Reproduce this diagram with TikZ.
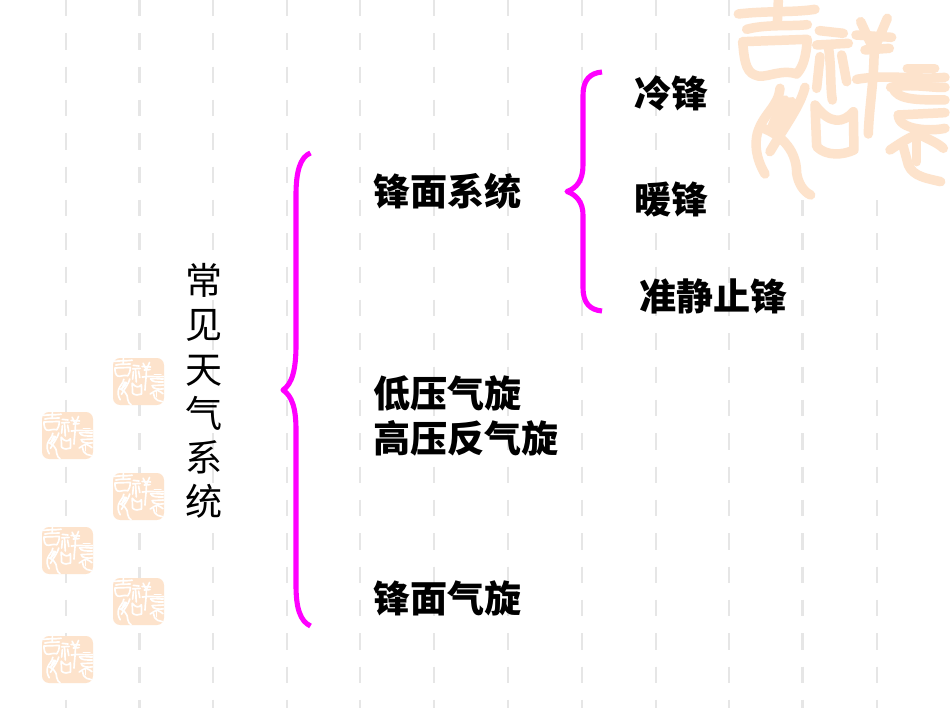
\documentclass[tikz,border=0pt]{standalone}
\usepackage{fontspec}
\setmainfont{Noto Sans CJK SC}
\usepackage{xcolor}
\definecolor{sealpeach}{HTML}{FDE3CC}
\definecolor{gridgray}{HTML}{E6E6E6}
\definecolor{bracepink}{HTML}{FF00FF}
\tikzset{
	bracestroke/.style={draw=bracepink,line width=2.9pt,line cap=butt,line join=round},
	gridstroke/.style={draw=gridgray,line width=1.4pt},
	itemlabel/.style={font=\bfseries\fontsize{21.1}{25}\selectfont,inner sep=0pt,anchor=west},
	sidelabel/.style={font=\fontsize{21.1}{25.2}\selectfont,inner sep=0pt,align=center}
}
% strokes of the seal, in units of 1/3 px of the large one
\newcommand{\sealstrokes}[1]{%
	\begin{scope}[line cap=round,line join=round,line width=#1]
	\draw (115,42) .. controls (200,32) and (280,38) .. (345,28);
	\draw (235,2) -- (232,70);
	\draw (140,88) .. controls (200,72) and (270,80) .. (322,74);
	\draw (128,125) -- (322,118) .. controls (318,170) and (310,200) .. (290,222) .. controls (240,205) and (190,240) .. (165,225) .. controls (135,215) and (132,170) .. (128,125);
	\draw (358,92) -- (430,100);
	\draw (350,135) -- (445,130);
	\draw (385,140) .. controls (395,200) and (390,260) .. (397,300);
	\draw (360,170) -- (350,265);
	\draw (425,165) -- (440,245);
	\draw (482,65) -- (512,130);
	\draw (562,55) -- (530,130);
	\draw (468,105) -- (575,112);
	\draw (495,150) -- (568,145);
	\draw (470,238) .. controls (560,222) and (650,240) .. (735,232);
	\draw (522,130) .. controls (525,230) and (507,320) .. (505,402);
	\draw (622,205) -- (704,205);
	\draw (572,262) .. controls (640,250) and (700,265) .. (735,262);
	\draw (578,262) .. controls (590,300) and (650,300) .. (735,300);
	\draw (595,345) -- (735,338);
	\draw (595,345) .. controls (595,390) and (690,395) .. (735,385);
	\draw (570,450) .. controls (600,430) and (630,410) .. (655,402) .. controls (690,420) and (715,430) .. (730,445);
	\draw (650,405) -- (650,485);
	\draw (610,440) -- (625,495) .. controls (640,530) and (680,535) .. (722,545);
	\draw (240,265) .. controls (235,320) and (190,340) .. (172,400) .. controls (165,430) and (165,470) .. (195,522);
	\draw (315,262) .. controls (300,320) and (260,370) .. (210,455);
	\draw (190,385) .. controls (230,400) and (290,440) .. (290,520) .. controls (295,550) and (310,575) .. (332,585);
	\draw (255,300) .. controls (245,330) and (225,350) .. (215,385) .. controls (240,370) and (265,340) .. (275,305);
	\draw (345,315) -- (350,440) .. controls (380,470) and (430,465) .. (462,450) -- (460,335) .. controls (430,370) and (390,375) .. (345,315);
	\end{scope}
}
\newcommand{\smallseal}[3]{%
	\draw[fill=sealpeach,draw=none,rounded corners=4pt] (#2,#3) rectangle +(51,47);
	\begin{scope}[shift={(#2-8.4,#3)},scale=.08,draw=white]
	\sealstrokes{.95pt}
	\end{scope}
}
\begin{document}
\begin{tikzpicture}[x=.02cm,y=-.02cm]
\useasboundingbox (0,0) rectangle (950,713);
\fill[white] (0,0) rectangle (950,713);

% dashed background columns
\foreach \colx in {66,139.5,213,287,360,434,508,582,656,729,802.5,877}{
	\foreach \rowy in {0,...,21}{
		\draw[gridstroke] (\colx,\rowy*33.33) -- +(0,16.5);
	}
}
\fill[white] (0,708) rectangle (950,713);

% large seal
\fill[white] (733,0) rectangle (950,200);
\begin{scope}[shift={(700,0)},scale=.3333,draw=sealpeach]
\sealstrokes{5.4pt}
\end{scope}

% small seals
\smallseal{a}{113}{358}
\smallseal{b}{42}{412}
\smallseal{c}{113}{473}
\smallseal{d}{42}{527}
\smallseal{e}{113}{578}
\smallseal{f}{42}{636}

% braces
\draw[bracestroke] (310.5,153) .. controls (300,157) and (296,172) .. (296,195) -- (296,345) .. controls (296,370) and (292,384) .. (283,390) .. controls (292,396) and (296,408) .. (296,430) -- (296,585) .. controls (296,608) and (300,621) .. (310.5,626);
\draw[bracestroke] (602,72) .. controls (590,73) and (583,80) .. (583,95) -- (583,165) .. controls (583,180) and (577,188) .. (567,191.5) .. controls (577,195) and (583,203) .. (583,215) -- (583,288) .. controls (583,303) and (590,310) .. (602,311);

\draw (204,391) node[sidelabel] (sidetitle) {常\\见\\天\\气\\系\\统};

\draw (373,191) node[itemlabel] (frontsys) {锋面系统};
\draw (373,393) node[itemlabel] (lowcyc) {低压气旋};
\draw (373,438) node[itemlabel] (highcyc) {高压反气旋};
\draw (373,598) node[itemlabel] (frontcyc) {锋面气旋};
\draw (634,93) node[itemlabel] (coldfront) {冷锋};
\draw (634,199) node[itemlabel] (warmfront) {暖锋};
\draw (639,296) node[itemlabel] (statfront) {准静止锋};

\end{tikzpicture}
\end{document}
